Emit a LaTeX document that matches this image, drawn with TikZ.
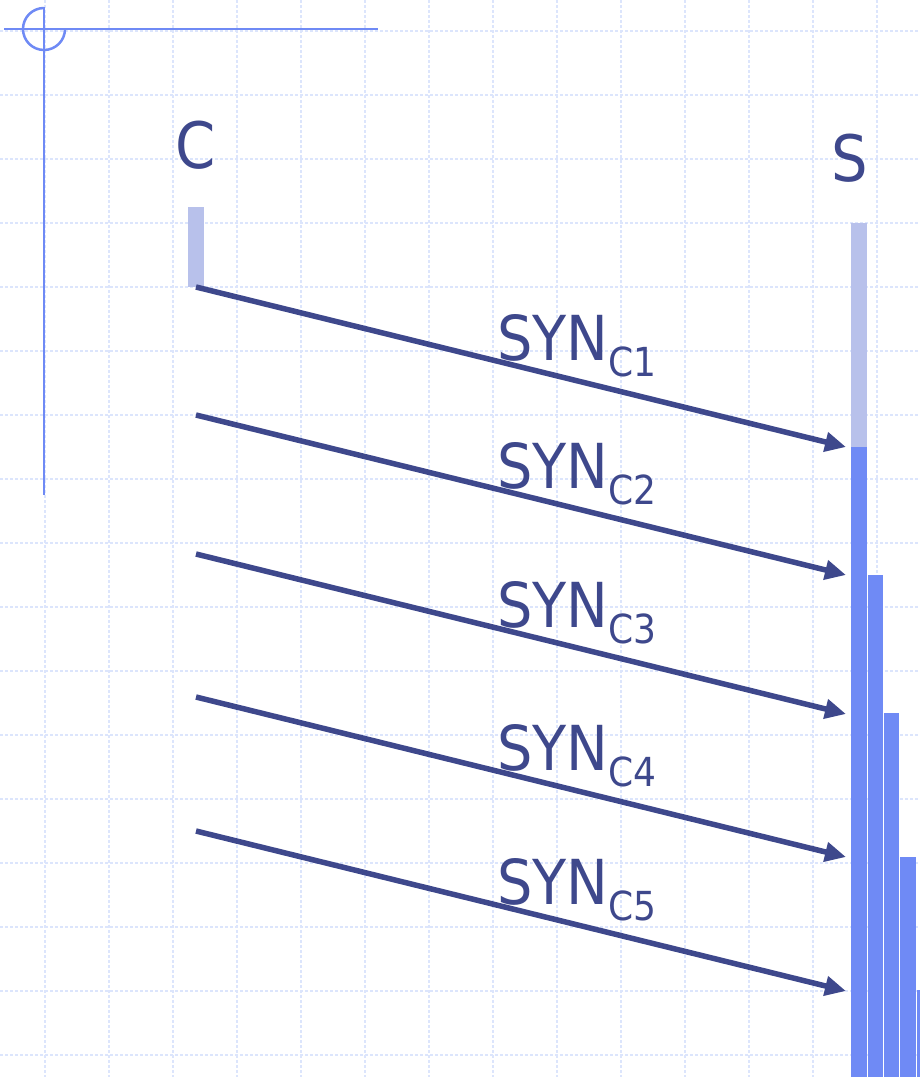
\documentclass[tikz,border=0pt]{standalone}
\usepackage{fontspec}
\setmainfont{DejaVu Sans Condensed}
\usetikzlibrary{arrows.meta}

\definecolor{navy}{RGB}{62,72,140}
\definecolor{barblue}{RGB}{111,138,245}
\definecolor{barpale}{RGB}{184,193,235}
\definecolor{gridblue}{RGB}{220,229,252}

\begin{document}
\begin{tikzpicture}[x=1pt,y=-1pt,
    gridline/.style={gridblue, line width=1.8pt, dash pattern=on 3pt off 2pt},
    axisline/.style={barblue, line width=2.5pt},
    msg/.style={navy, line width=5.5pt, -{Triangle[length=21pt,width=19pt]}},
    synlabel/.style={navy, anchor=base west, inner sep=0pt, font=\fontsize{62}{62}\selectfont},
    hostlabel/.style={navy, anchor=base, inner sep=0pt, font=\fontsize{64}{64}\selectfont}]

    % page and background grid
    \fill[white] (0,0) rectangle (920,1077);
    \useasboundingbox (0,0) rectangle (920,1077);
    \foreach \gx in {45,109,...,877}
        \draw[gridline] (\gx,0) -- (\gx,1077);
    \foreach \gy in {31,95,...,1055}
        \draw[gridline] (0,\gy) -- (920,\gy);

    % corner mark
    \draw[axisline] (4,29) -- (378,29);
    \draw[axisline] (44,7) -- (44,495);
    \draw[axisline] (44,8) arc[start angle=270, end angle=0, radius=21];

    % hosts
    \node[hostlabel] (client) at (196,168) {C};
    \node[hostlabel] (server) at (850,181) {S};
    \fill[barpale] (188,207) rectangle (204,287);
    \fill[barpale] (851,223) rectangle (867,447);

    % half-open connections piling up at the server
    \foreach \xa/\xb/\top in {851/868/447, 868/884/575, 884/900/713, 900/917/857, 917/930/990}
        \fill[barblue] (\xa,\top) rectangle (\xb-1,1077);

    % SYN messages
    \foreach \i/\ys in {1/287, 2/415, 3/554, 4/697, 5/831} {
        \coordinate (c\i) at (196,\ys);
        \coordinate (s\i) at (846,\ys+160);
        \draw[msg] (c\i) -- (s\i);
        \node[synlabel] (syn\i) at (497,\ys+73)
            {SYN\raisebox{-16pt}{\fontsize{40}{40}\selectfont C\i}};
    }

\end{tikzpicture}
\end{document}
